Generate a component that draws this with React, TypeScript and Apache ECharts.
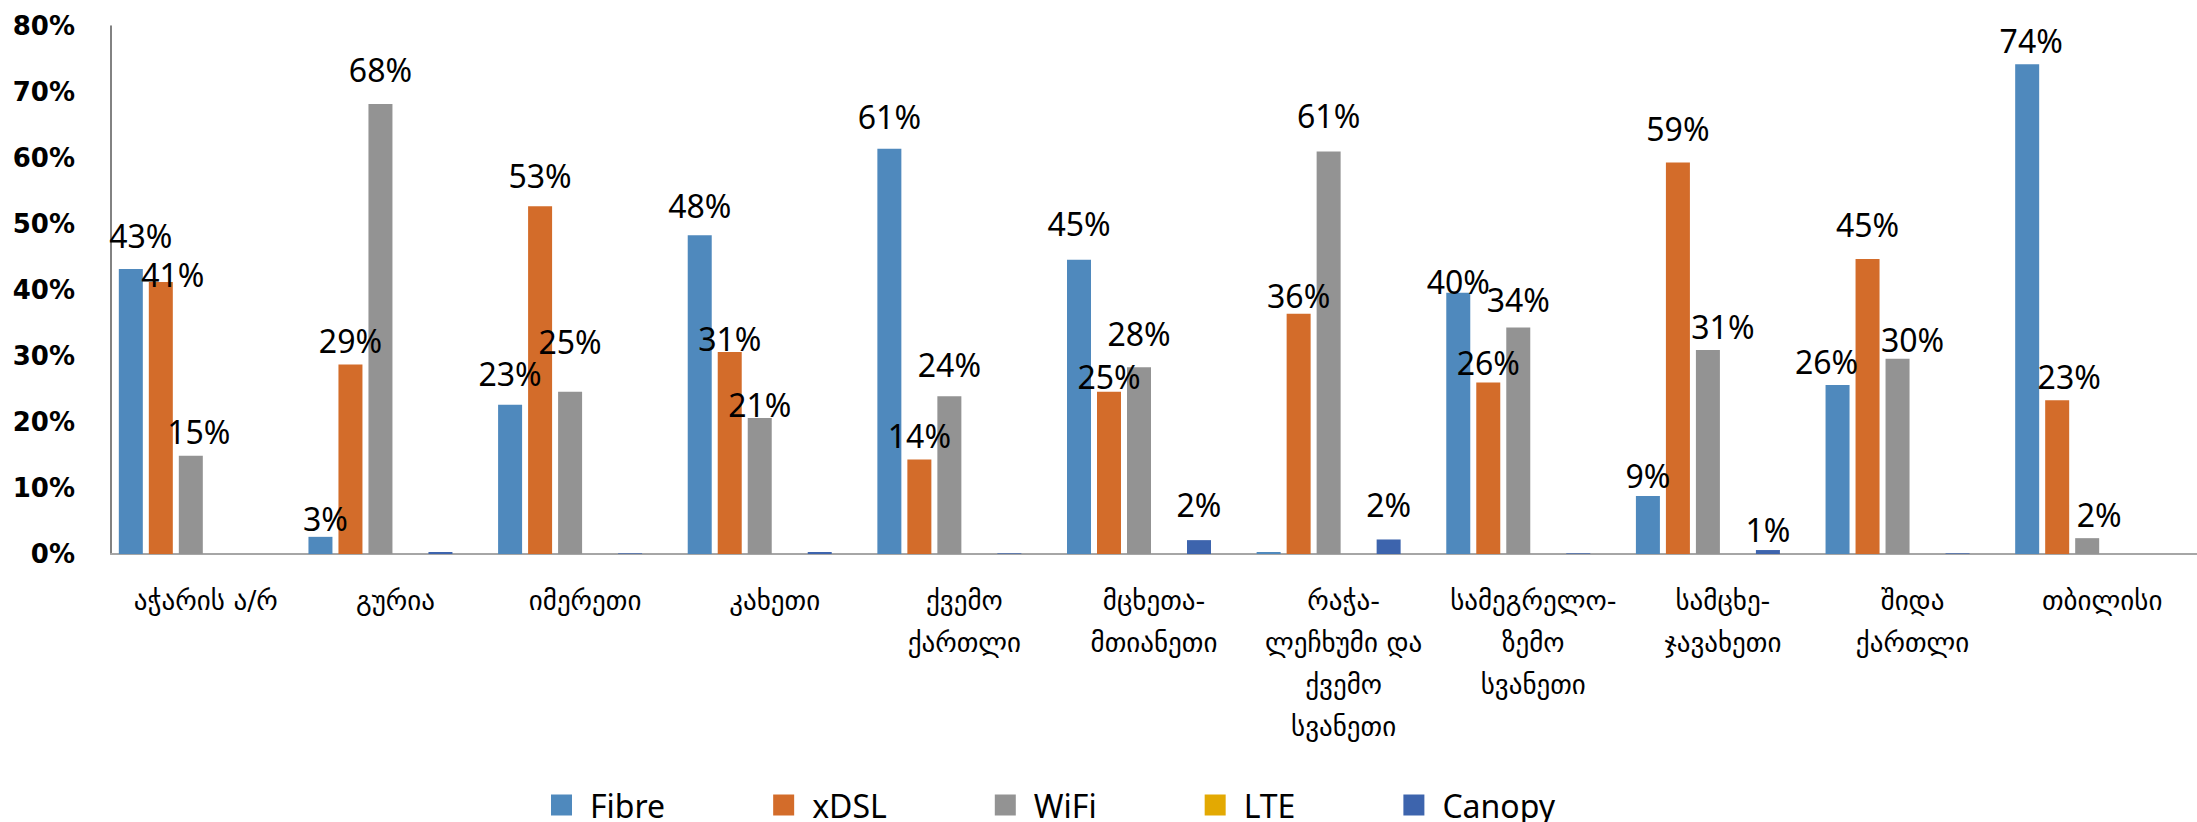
import React, { useEffect, useRef } from 'react';
import * as echarts from 'echarts';

const categories = [
  'აჭარის ა/რ',
  'გურია',
  'იმერეთი',
  'კახეთი',
  'ქვემო\nქართლი',
  'მცხეთა-\nმთიანეთი',
  'რაჭა-\nლეჩხუმი და\nქვემო\nსვანეთი',
  'სამეგრელო-\nზემო\nსვანეთი',
  'სამცხე-\nჯავახეთი',
  'შიდა\nქართლი',
  'თბილისი',
];

const fibre = [43.2, 2.6, 22.6, 48.3, 61.4, 44.6, 0.3, 39.6, 8.8, 25.6, 74.2];
const xdsl = [41.2, 28.7, 52.7, 30.6, 14.3, 24.6, 36.4, 26.0, 59.3, 44.7, 23.3];
const wifi = [14.9, 68.2, 24.6, 20.6, 23.9, 28.3, 61.0, 34.3, 30.9, 29.6, 2.4];
const lte = [0, 0, 0, 0, 0, 0, 0, 0, 0, 0, 0];
const canopy = [0, 0.3, 0.1, 0.3, 0.1, 2.1, 2.2, 0.1, 0.6, 0.1, 0];

const yMin = 0;
const yMax = 80;
const yStep = 10;

// data-label nudges (px) as placed by hand in the original chart
const labelShiftX: Record<string, number[]> = {
  Fibre: [10, 5, 0, 0, 0, 0, 0, 0, 0, -11, 4],
  xDSL: [12, 0, 0, 0, 0, 0, 0, 0, 0, 0, 12],
  WiFi: [8, 0, 0, 0, 0, 0, 0, 0, 15, 15, 12],
  LTE: [0, 0, 0, 0, 0, 0, 0, 0, 0, 0, 0],
  Canopy: [0, 0, 0, 0, 0, 0, 0, 0, 0, 0, 0],
};
const labelShiftY: Record<string, number[]> = {
  Fibre: [-9, 6, -7, -6, -8, -12, 0, 13, 4, 0, 0],
  xDSL: [16, 0, -7, 10, 0, 9, 6, 4, -10, -10, 0],
  WiFi: [0, -10, -26, 10, -8, -10, -12, -4, 0, 5, 0],
  LTE: [0, 0, 0, 0, 0, 0, 0, 0, 0, 0, 0],
  Canopy: [0, 0, 0, 0, 0, -12, -11, 0, 3, 0, 0],
};

const colors: Record<string, string> = {
  Fibre: '#4F89BD',
  xDSL: '#D36C2A',
  WiFi: '#939393',
  LTE: '#E3A902',
  Canopy: '#3D64AD',
};

const seriesDefs: [string, number[]][] = [
  ['Fibre', fibre],
  ['xDSL', xdsl],
  ['WiFi', wifi],
  ['LTE', lte],
  ['Canopy', canopy],
];

export default function App() {
  const ref = useRef<HTMLDivElement>(null);

  useEffect(() => {
    if (!ref.current) return;
    const chart = echarts.init(ref.current, null, { renderer: 'svg' });

    const series: any[] = seriesDefs.map(([name, data]) => ({
      type: 'bar',
      name,
      barWidth: 24,
      barGap: '25%',
      itemStyle: { color: colors[name] },
      data: data.map((v, i) => ({
        value: v,
        label: { offset: [labelShiftX[name][i], labelShiftY[name][i]] },
      })),
      label: {
        show: true,
        position: 'top',
        distance: 8,
        fontFamily: 'Noto Sans',
        fontSize: 32,
        lineHeight: 32,
        color: '#000',
        formatter: (p: any) => (p.value >= 0.5 ? Math.round(p.value) + '%' : ''),
      },
    }));
    // empty slot (no data) that the original chart reserves at the end of each group
    series.push({
      type: 'bar',
      name: 'spacer',
      barWidth: 24,
      barGap: '25%',
      silent: true,
      data: categories.map(() => null),
    });

    chart.setOption({
      animation: false,
      backgroundColor: '#ffffff',
      grid: { left: 111, top: 26, bottom: 268, width: 2101, containLabel: false },
      legend: {
        data: seriesDefs.map(([n]) => n),
        left: 551,
        top: 789,
        padding: 0,
        itemGap: 108,
        itemWidth: 21,
        itemHeight: 21,
        icon: 'rect',
        textStyle: {
          fontFamily: 'Noto Sans',
          fontSize: 32,
          lineHeight: 26,
          color: '#000',
          padding: [0, 0, 0, 13],
        },
      },
      xAxis: {
        type: 'category',
        data: categories,
        axisLine: { show: true, lineStyle: { color: '#a6a6a6', width: 2 } },
        axisTick: { show: false },
        axisLabel: {
          interval: 0,
          fontFamily: 'DejaVu Sans',
          fontSize: 27,
          lineHeight: 42,
          color: '#000',
          margin: 25,
        },
        splitLine: { show: false },
      },
      yAxis: {
        type: 'value',
        min: yMin,
        max: yMax,
        interval: yStep,
        axisLine: { show: true, lineStyle: { color: '#595959', width: 1.5 } },
        axisTick: { show: false },
        splitLine: { show: false },
        axisLabel: {
          formatter: '{value}%',
          fontFamily: 'DejaVu Sans',
          fontWeight: 'bold',
          fontSize: 26,
          color: '#000',
          margin: 36,
        },
      },
      series,
    });

    return () => chart.dispose();
  }, []);

  return (
    <div
      ref={ref}
      style={{ position: 'fixed', left: 0, top: 0, width: 2197, height: 822, background: '#fff' }}
    />
  );
}
